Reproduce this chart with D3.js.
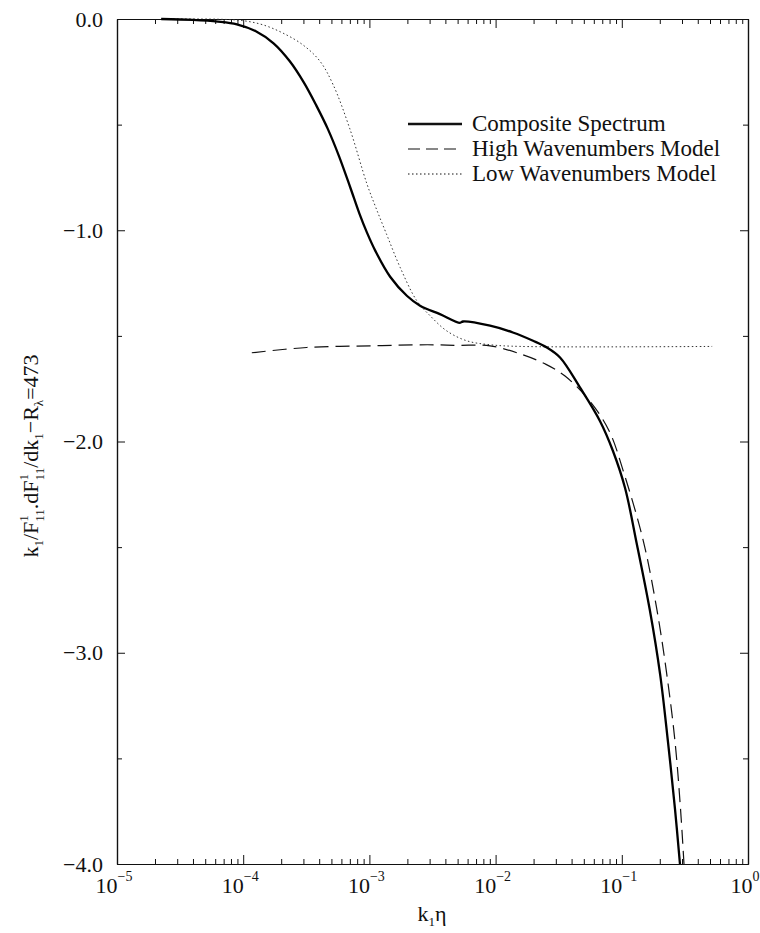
<!DOCTYPE html>
<html>
<head>
<meta charset="utf-8">
<script src="https://cdn.jsdelivr.net/npm/d3@7"></script>
<style>
  html, body { margin: 0; padding: 0; background: #fff; }
  svg { display: block; }
  text { font-family: "Liberation Serif", "Times New Roman", serif; fill: #111; }
</style>
</head>
<body>
<svg id="chart" width="760" height="933"></svg>
<script>
// Normalised log-derivative of the 1-D spectrum, R_lambda = 473.
// k1*eta values and the corresponding curve values.
const compositeK = [2.24e-5, 3.98e-5, 6.31e-5, 8.91e-5, 1.26e-4, 1.74e-4, 2.34e-4, 3.02e-4, 3.80e-4, 4.68e-4,
  5.75e-4, 7.08e-4, 8.32e-4, 9.55e-4, 1.12e-3, 1.46e-3, 1.98e-3, 2.52e-3, 3.62e-3, 5.22e-3, 5.52e-3, 9.04e-3,
  1.37e-2, 1.98e-2, 2.55e-2, 3.24e-2, 4.67e-2, 6.71e-2, 8.51e-2, 0.106, 0.131, 0.167, 0.201, 0.232, 0.264, 0.289];
const compositeV = [0.0, -0.004, -0.012, -0.025, -0.058, -0.115, -0.20, -0.30, -0.41, -0.52,
  -0.65, -0.80, -0.92, -1.01, -1.10, -1.22, -1.31, -1.357, -1.397, -1.438, -1.432, -1.452,
  -1.484, -1.523, -1.555, -1.602, -1.745, -1.903, -2.045, -2.219, -2.48, -2.80, -3.10, -3.42, -3.74, -4.0];

const highK = [1.17e-4, 3.18e-4, 1.07e-3, 2.88e-3, 5.0e-3, 9.04e-3, 1.65e-2, 2.51e-2, 3.55e-2, 5.6e-2,
  7.94e-2, 0.104, 0.148, 0.189, 0.227, 0.264, 0.292, 0.311];
const highV = [-1.58, -1.555, -1.547, -1.542, -1.545, -1.547, -1.59, -1.635, -1.69, -1.81,
  -1.95, -2.15, -2.47, -2.79, -3.10, -3.42, -3.74, -4.0];

const lowK = [2.24e-5, 6.31e-5, 1.0e-4, 1.44e-4, 2.07e-4, 2.98e-4, 4.06e-4, 5.15e-4, 7.0e-4, 9.55e-4,
  1.12e-3, 1.37e-3, 1.75e-3, 2.37e-3, 3.02e-3, 4.09e-3, 5.89e-3, 9.04e-3, 1.58e-2, 0.52];
const lowV = [0.0, -0.001, -0.008, -0.028, -0.067, -0.123, -0.20, -0.31, -0.52, -0.78,
  -0.89, -1.02, -1.175, -1.333, -1.404, -1.476, -1.523, -1.542, -1.55, -1.55];

const seriesNames = ["Composite Spectrum", "High Wavenumbers Model", "Low Wavenumbers Model"];
const xDecades = [1e-5, 1e-4, 1e-3, 1e-2, 1e-1, 1];
const xDecadeExp = ["\u22125", "\u22124", "\u22123", "\u22122", "\u22121", "0"];
const yMajor = [0, -1, -2, -3, -4];
const yMinor = [-0.5, -1.5, -2.5, -3.5];

const svg = d3.select("#chart");
const L = 117, R = 748, T = 19, B = 864;

const x = d3.scaleLog().domain([1e-5, 1]).range([L, R]);
const y = d3.scaleLinear().domain([-4, 0]).range([B, T]);

// minor ticks: 2..9 within each decade
const xMinor = x.ticks().filter(v => xDecades.indexOf(v) < 0);

function styleAxis(g) {
  g.selectAll("path.domain").attr("stroke", "#111").attr("stroke-width", 1.2);
  g.selectAll(".tick line").attr("stroke", "#111").attr("stroke-width", 1);
}

// bottom axis
svg.append("g").attr("transform", `translate(0,${B})`)
  .call(d3.axisBottom(x).tickValues(xMinor).tickSize(-5).tickFormat("").tickSizeOuter(0))
  .call(styleAxis);
svg.append("g").attr("transform", `translate(0,${B})`)
  .call(d3.axisBottom(x).tickValues(xDecades).tickSize(-9).tickFormat("").tickSizeOuter(0))
  .call(styleAxis);
// top axis
svg.append("g").attr("transform", `translate(0,${T})`)
  .call(d3.axisTop(x).tickValues(xMinor).tickSize(-5).tickFormat("").tickSizeOuter(0))
  .call(styleAxis);
svg.append("g").attr("transform", `translate(0,${T})`)
  .call(d3.axisTop(x).tickValues(xDecades).tickSize(-9).tickFormat("").tickSizeOuter(0))
  .call(styleAxis);
// left axis
svg.append("g").attr("transform", `translate(${L},0)`)
  .call(d3.axisLeft(y).tickValues(yMinor).tickSize(-5).tickFormat("").tickSizeOuter(0))
  .call(styleAxis);
const yAxisL = svg.append("g").attr("transform", `translate(${L},0)`)
  .call(d3.axisLeft(y).tickValues(yMajor).tickSize(-8).tickPadding(14)
    .tickFormat(d3.format(".1f")).tickSizeOuter(0))
  .call(styleAxis);
yAxisL.selectAll(".tick text")
  .attr("font-family", '"Liberation Serif", serif').attr("font-size", 22).attr("fill", "#111");
// right axis
svg.append("g").attr("transform", `translate(${R},0)`)
  .call(d3.axisRight(y).tickValues(yMinor).tickSize(-5).tickFormat("").tickSizeOuter(0))
  .call(styleAxis);
svg.append("g").attr("transform", `translate(${R},0)`)
  .call(d3.axisRight(y).tickValues(yMajor).tickSize(-8).tickFormat("").tickSizeOuter(0))
  .call(styleAxis);

// decade labels 10^n
const xl = svg.append("g").selectAll("text").data(xDecades).join("text")
  .attr("x", d => x(d) - 3).attr("y", 893)
  .attr("text-anchor", "middle").attr("font-size", 22);
xl.append("tspan").text("10");
xl.append("tspan").attr("dy", -12).attr("font-size", 14).text((d, i) => xDecadeExp[i]);

// x axis title: k1 eta
const xt = svg.append("text").attr("x", 432).attr("y", 921).attr("text-anchor", "middle").attr("font-size", 22);
xt.append("tspan").text("k");
xt.append("tspan").attr("font-size", 13).attr("dy", 5).text("1");
xt.append("tspan").attr("dy", -5).text("\u03b7");

// y axis title
const yt = svg.append("text").attr("transform", "translate(38,456) rotate(-90)")
  .attr("text-anchor", "middle").attr("font-size", 22);
yt.append("tspan").text("k");
yt.append("tspan").attr("font-size", 13).attr("dy", 5).text("1");
yt.append("tspan").attr("dy", -5).text("/F");
yt.append("tspan").attr("font-size", 13).attr("dy", -10).text("1");
yt.append("tspan").attr("font-size", 13).attr("dx", -6).attr("dy", 16).text("11");
yt.append("tspan").attr("dy", -6).text(".dF");
yt.append("tspan").attr("font-size", 13).attr("dy", -10).text("1");
yt.append("tspan").attr("font-size", 13).attr("dx", -6).attr("dy", 16).text("11");
yt.append("tspan").attr("dy", -6).text("/dk");
yt.append("tspan").attr("font-size", 13).attr("dy", 5).text("1");
yt.append("tspan").attr("dy", -5).text("\u2212R");
yt.append("tspan").attr("font-size", 13).attr("dy", 5).text("\u03bb");
yt.append("tspan").attr("dy", -5).text("=473");

// curves
const line = d3.line().x(d => x(d[0])).y(d => y(d[1])).curve(d3.curveCatmullRom.alpha(0.5));
const zip = (ks, vs) => ks.map((k, i) => [k, vs[i]]);

svg.append("path").datum(zip(lowK, lowV)).attr("d", line)
  .attr("fill", "none").attr("stroke", "#333").attr("stroke-width", 1)
  .attr("stroke-dasharray", "1.5,2.5");
svg.append("path").datum(zip(highK, highV)).attr("d", line)
  .attr("fill", "none").attr("stroke", "#111").attr("stroke-width", 1.2)
  .attr("stroke-dasharray", "14,7");
svg.append("path").datum(zip(compositeK, compositeV)).attr("d", line)
  .attr("fill", "none").attr("stroke", "#000").attr("stroke-width", 2.3);

// legend
const legStyles = [
  { w: 2.3, dash: null },
  { w: 1.2, dash: "12,6" },
  { w: 1, dash: "1.5,2.5" }
];
const leg = svg.append("g").selectAll("g").data(seriesNames).join("g")
  .attr("transform", (d, i) => `translate(408,${124 + i * 25})`);
leg.append("line").attr("x1", 0).attr("x2", 54).attr("y1", 0).attr("y2", 0)
  .attr("stroke", "#111").attr("stroke-width", (d, i) => legStyles[i].w)
  .attr("stroke-dasharray", (d, i) => legStyles[i].dash);
leg.append("text").attr("x", 64).attr("y", 7).attr("font-size", 23).text(d => d);
</script>
</body>
</html>
